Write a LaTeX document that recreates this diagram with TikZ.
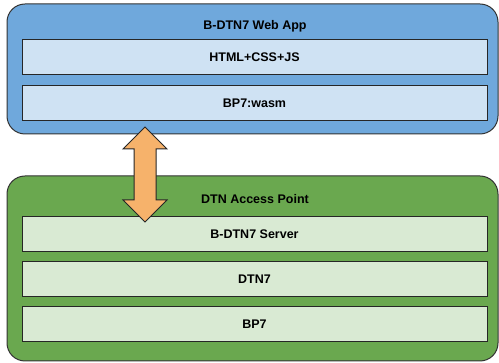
\documentclass[tikz,border=0pt]{standalone}
\usepackage{fontspec}
\setmainfont{Liberation Sans}
\usepackage{tikz}

\definecolor{appblue}{HTML}{6FA8DC}
\definecolor{applight}{HTML}{CFE2F3}
\definecolor{apgreen}{HTML}{6AA84F}
\definecolor{aplight}{HTML}{D9EAD3}
\definecolor{linkorange}{HTML}{F6B26B}

\begin{document}
\begin{tikzpicture}
	[x=1pt,y=-1pt,
	 outerbox/.style={draw=black!80,line width=1pt,rounded corners=18pt,minimum width=491pt,inner sep=0pt},
	 layerbox/.style={draw=black!85,line width=1pt,minimum width=465pt,minimum height=35pt,inner sep=0pt,font=\bfseries\fontsize{12.5}{15}\selectfont},
	 boxtitle/.style={font=\bfseries\fontsize{12.5}{15}\selectfont}]
\useasboundingbox (0,0) rectangle (499,363);
% web app side
\node[outerbox,fill=appblue,minimum height=130pt] (app) at (252.5,69) {};
\node[boxtitle] (apptitle) at (255,26) {B-DTN7 Web App};
\node[layerbox,fill=applight] (html) at (254.5,57.5) {HTML+CSS+JS};
\node[layerbox,fill=applight] (wasm) at (254.5,103.5) {BP7:wasm};
% access point side
\node[outerbox,fill=apgreen,minimum height=185pt] (ap) at (252.5,268.5) {};
\node[boxtitle] (aptitle) at (255,199) {DTN Access Point};
\node[layerbox,fill=aplight] (server) at (254.5,234.5) {B-DTN7 Server};
\node[layerbox,fill=aplight] (dtn) at (254.5,279.5) {DTN7};
\node[layerbox,fill=aplight] (bp) at (254.5,324.5) {BP7};
% link between them
\coordinate (up) at (145,127);
\coordinate (dn) at (145,222);
\draw[draw=black!85,line width=1pt,fill=linkorange,line join=miter]
(up) -- ++(22,22) -- ++(-11,0) -- ++(0,51) -- ++(11,0) -- (dn)
-- ++(-22,-22) -- ++(11,0) -- ++(0,-51) -- ++(-11,0) -- cycle;
\end{tikzpicture}
\end{document}
